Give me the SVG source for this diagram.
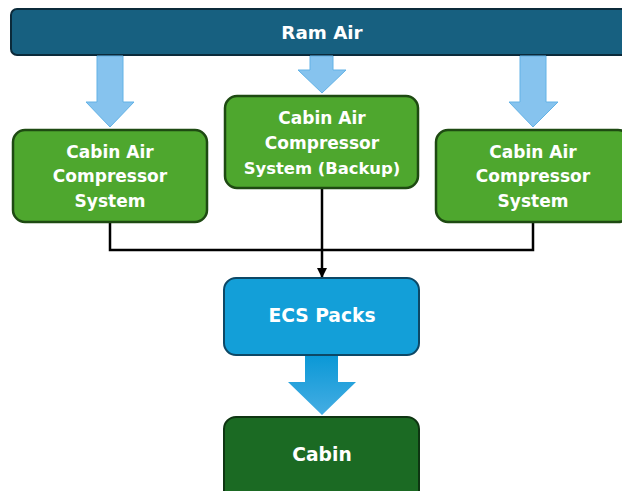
<svg xmlns="http://www.w3.org/2000/svg" width="622" height="491" viewBox="0 0 622 491">
<defs>
<style>
.t{font-family:"DejaVu Sans","Liberation Sans",sans-serif;font-weight:bold;font-size:17px;fill:#fff;text-anchor:middle}
.t2{font-size:18.7px}
.g{fill:#4ea72e;stroke:#1e4a12;stroke-width:2.5}
.ba{fill:#86c3ee;stroke:#62b2e6;stroke-width:1}
.ln{fill:none;stroke:#000;stroke-width:2.5}
</style>
<linearGradient id="bg" x1="0" y1="0" x2="0" y2="1">
<stop offset="0" stop-color="#0a98d6"/>
<stop offset="1" stop-color="#45ade3"/>
</linearGradient>
<marker id="ah" viewBox="0 0 10 10" refX="10" refY="5" markerWidth="4" markerHeight="4" orient="auto" markerUnits="strokeWidth">
<path d="M0,0 L10,5 L0,10 z" fill="#000"/>
</marker>
</defs>
<rect width="622" height="491" fill="#fff"/>
<g id="ram-air">
<rect x="11" y="9" width="630" height="46" rx="6" fill="#176080" stroke="#0b2a3a" stroke-width="2"/>
<text class="t t2" x="322" y="39" style="font-size:18.3px">Ram Air</text>
</g>
<g id="arrows">
<path class="ba" d="M97,56 H123 V102 H134 L110,127 L86,102 H97 Z"/>
<path class="ba" d="M310,56 H333 V70 H346 L322,93 L298,70 H310 Z"/>
<path class="ba" d="M520,56 H546 V102 H558 L533,127 L509,102 H520 Z"/>
<path d="M305,355 H338 V382 H356 L322,415 L288,382 H305 Z" fill="url(#bg)"/>
</g>
<g id="connectors">
<path class="ln" d="M110,222 V250 H533 V222"/>
<path class="ln" d="M322,189 V278" marker-end="url(#ah)"/>
</g>
<g id="cacs-left">
<rect class="g" x="13" y="130" width="194" height="92" rx="12"/>
<text class="t" x="110" y="157.5">Cabin Air</text>
<text class="t" x="110" y="182">Compressor</text>
<text class="t" x="110" y="206.5">System</text>
</g>
<g id="cacs-backup">
<rect class="g" x="225" y="96" width="193" height="92" rx="12"/>
<text class="t" x="322" y="124">Cabin Air</text>
<text class="t" x="322" y="149">Compressor</text>
<text class="t" x="322" y="174" style="font-size:16.4px">System (Backup)</text>
</g>
<g id="cacs-right">
<rect class="g" x="436" y="130" width="194" height="92" rx="12"/>
<text class="t" x="533" y="157.5">Cabin Air</text>
<text class="t" x="533" y="182">Compressor</text>
<text class="t" x="533" y="206.5">System</text>
</g>
<g id="ecs-packs">
<rect x="224" y="278" width="195" height="77" rx="12" fill="#139fd8" stroke="#0d4866" stroke-width="2"/>
<text class="t t2" x="322" y="322">ECS Packs</text>
</g>
<g id="cabin">
<rect x="224" y="417" width="195" height="90" rx="12" fill="#1b6a23" stroke="#0e3512" stroke-width="2"/>
<text class="t t2" x="322" y="461">Cabin</text>
</g>
</svg>
